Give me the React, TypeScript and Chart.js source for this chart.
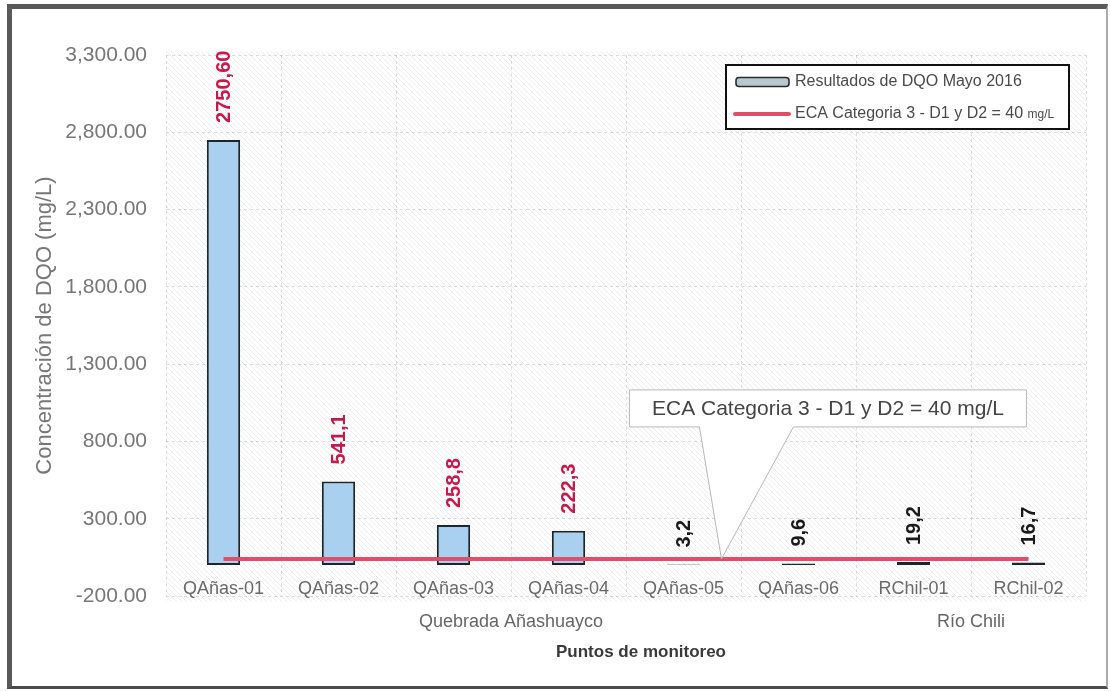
import { useEffect, useRef } from "react";
import { Chart, registerables } from "chart.js";

Chart.register(...registerables);

// Puntos de monitoreo (categorías del eje X)
const puntos = [
  "QAñas-01",
  "QAñas-02",
  "QAñas-03",
  "QAñas-04",
  "QAñas-05",
  "QAñas-06",
  "RChil-01",
  "RChil-02",
];

// Resultados de DQO, mayo 2016 (mg/L)
const dqoMayo2016 = [2750.6, 541.1, 258.8, 222.3, 3.2, 9.6, 19.2, 16.7];
// Decimales con los que se rotula cada resultado
const decimalesEtiqueta = [2, 1, 1, 1, 1, 1, 1, 1];

// Estándar de calidad ambiental (ECA) Categoría 3 - D1 y D2
const ecaLimite = 40;
const ecaSerie = [40, 40, 40, 40, 40, 40, 40, 40];

// Eje Y
const yMin = -200;
const yMax = 3300;
const yPaso = 500;

// Agrupación de puntos por cuerpo de agua
const gruposNombres = ["Quebrada Añashuayco", "Río Chili"];
const gruposDesde = [0, 6];
const gruposHasta = [5, 7];

const FONT = "'Liberation Sans', Arial, sans-serif";
const ROJO_ETIQUETA = "#c8184a";
const ROJO_ECA = "#e34d68";

function makeHatch(): CanvasPattern | string {
  const c = document.createElement("canvas");
  c.width = 5;
  c.height = 5;
  const g = c.getContext("2d");
  if (!g) return "#fafafa";
  g.fillStyle = "#ffffff";
  g.fillRect(0, 0, 5, 5);
  g.strokeStyle = "rgba(0,0,0,0.065)";
  g.lineWidth = 1;
  g.beginPath();
  g.moveTo(-1, -1);
  g.lineTo(6, 6);
  g.moveTo(-1, 4);
  g.lineTo(1, 6);
  g.moveTo(4, -1);
  g.lineTo(6, 1);
  g.stroke();
  const p = g.createPattern(c, "repeat");
  return p || "#fafafa";
}

export default function App() {
  const canvasRef = useRef<HTMLCanvasElement | null>(null);

  useEffect(() => {
    const canvas = canvasRef.current;
    if (!canvas) return;
    const hatch = makeHatch();

    const fondoPlot = {
      id: "fondoPlot",
      beforeDraw(chart: any) {
        const { ctx, chartArea } = chart;
        ctx.save();
        ctx.fillStyle = hatch;
        ctx.fillRect(
          chartArea.left,
          chartArea.top - 4,
          chartArea.right - chartArea.left,
          chartArea.bottom - chartArea.top + 10
        );
        ctx.restore();
      },
    };

    const etiquetasBarras = {
      id: "etiquetasBarras",
      afterDatasetsDraw(chart: any) {
        const { ctx } = chart;
        const meta = chart.getDatasetMeta(0);
        ctx.save();
        ctx.font = `bold 20px ${FONT}`;
        ctx.textAlign = "left";
        ctx.textBaseline = "middle";
        meta.data.forEach((bar: any, i: number) => {
          const v = dqoMayo2016[i];
          const txt = v.toFixed(decimalesEtiqueta[i]).replace(".", ",");
          ctx.save();
          ctx.translate(bar.x + 1, bar.y - 17);
          ctx.rotate(-Math.PI / 2);
          ctx.fillStyle = v > ecaLimite ? ROJO_ETIQUETA : "#1a1a1a";
          ctx.fillText(txt, 0, 0);
          ctx.restore();
        });
        ctx.restore();
      },
    };

    const llamada = {
      id: "llamada",
      afterDatasetsDraw(chart: any) {
        const { ctx, scales } = chart;
        const tipX = scales.x.getPixelForValue(4.33);
        const tipY = scales.y.getPixelForValue(ecaLimite);
        const left = tipX - 92;
        const right = tipX + 305;
        const bottom = tipY - 132;
        const top = bottom - 37;
        ctx.save();
        ctx.beginPath();
        ctx.moveTo(left, top);
        ctx.lineTo(right, top);
        ctx.lineTo(right, bottom);
        ctx.lineTo(tipX + 72, bottom);
        ctx.lineTo(tipX, tipY);
        ctx.lineTo(tipX - 22, bottom);
        ctx.lineTo(left, bottom);
        ctx.closePath();
        ctx.fillStyle = "#ffffff";
        ctx.fill();
        ctx.strokeStyle = "#b8b8b8";
        ctx.lineWidth = 1;
        ctx.stroke();
        ctx.fillStyle = "#444";
        ctx.font = `21px ${FONT}`;
        ctx.textAlign = "center";
        ctx.textBaseline = "middle";
        ctx.fillText(chart.data.datasets[1].label, (left + right) / 2, (top + bottom) / 2 + 1);
        ctx.restore();
      },
    };

    const leyenda = {
      id: "leyenda",
      afterDraw(chart: any) {
        const { ctx } = chart;
        const ds = chart.data.datasets;
        const lx = 726;
        const ly = 65;
        const lw = 343;
        const lh = 64;
        ctx.save();
        ctx.fillStyle = "#ffffff";
        ctx.fillRect(lx, ly, lw, lh);
        ctx.strokeStyle = "#111";
        ctx.lineWidth = 2;
        ctx.strokeRect(lx, ly, lw, lh);

        // fila 1: barras
        const r1 = ly + 17;
        ctx.beginPath();
        ctx.roundRect(736, r1 - 4.5, 53, 9, 3);
        ctx.fillStyle = "#b8c9cd";
        ctx.fill();
        ctx.strokeStyle = "#2a2a2a";
        ctx.lineWidth = 1.6;
        ctx.stroke();
        ctx.fillStyle = "#4a4a4a";
        ctx.font = `16px ${FONT}`;
        ctx.textAlign = "left";
        ctx.textBaseline = "middle";
        ctx.fillText(ds[0].label, 795, r1);

        // fila 2: línea ECA
        const r2 = ly + 49;
        ctx.beginPath();
        ctx.moveTo(735, r2);
        ctx.lineTo(789, r2);
        ctx.strokeStyle = ROJO_ECA;
        ctx.lineWidth = 4;
        ctx.lineCap = "round";
        ctx.stroke();
        const etiqueta: string = ds[1].label;
        const unidad = "mg/L";
        const base = etiqueta.endsWith(unidad) ? etiqueta.slice(0, -unidad.length) : etiqueta;
        ctx.fillStyle = "#4a4a4a";
        ctx.font = `16px ${FONT}`;
        ctx.fillText(base, 795, r2);
        if (base !== etiqueta) {
          const w = ctx.measureText(base).width;
          ctx.font = `12px ${FONT}`;
          ctx.fillText(unidad, 795 + w, r2 + 1);
        }
        ctx.restore();
      },
    };

    const rotulosInferiores = {
      id: "rotulosInferiores",
      afterDraw(chart: any) {
        const { ctx, scales, chartArea } = chart;
        ctx.save();
        ctx.textAlign = "center";
        ctx.textBaseline = "middle";
        ctx.fillStyle = "#666";
        ctx.font = `18px ${FONT}`;
        gruposNombres.forEach((nombre, i) => {
          const x0 = scales.x.getPixelForValue(gruposDesde[i]);
          const x1 = scales.x.getPixelForValue(gruposHasta[i]);
          ctx.fillText(nombre, (x0 + x1) / 2, chartArea.bottom + 26);
        });
        ctx.fillStyle = "#3a3a3a";
        ctx.font = `bold 17px ${FONT}`;
        ctx.fillText("Puntos de monitoreo", (chartArea.left + chartArea.right) / 2 + 15, chartArea.bottom + 56);
        ctx.restore();
      },
    };

    const chart = new Chart(canvas, {
      type: "bar",
      data: {
        labels: puntos,
        datasets: [
          {
            type: "bar",
            label: "Resultados de DQO Mayo 2016",
            data: dqoMayo2016,
            backgroundColor: "#a9d0ef",
            borderColor: "#1c262c",
            borderWidth: 2,
            borderSkipped: false,
            barPercentage: 0.29,
            categoryPercentage: 1,
            order: 1,
          },
          {
            type: "line",
            label: "ECA Categoria 3 - D1 y D2 = 40 mg/L",
            data: ecaSerie,
            borderColor: ROJO_ECA,
            borderWidth: 4,
            pointRadius: 0,
            fill: false,
            order: 0,
          } as any,
        ],
      },
      options: {
        responsive: false,
        animation: false,
        devicePixelRatio: 1,
        layout: { padding: { left: 0, right: 24, top: 55, bottom: 95 } },
        plugins: {
          legend: { display: false },
          tooltip: { enabled: false },
        },
        scales: {
          x: {
            type: "category",
            position: { y: 0 } as any,
            offset: true,
            grid: {
              offset: true,
              color: "rgba(0,0,0,0.13)",
              drawTicks: false,
            },
            border: { display: false, dash: [3, 3] },
            ticks: {
              color: "#6a6a6a",
              font: { family: FONT, size: 18 },
              padding: 13,
              maxRotation: 0,
              autoSkip: false,
            },
          },
          y: {
            type: "linear",
            min: yMin,
            max: yMax,
            afterFit(scale: any) {
              scale.width = 166;
            },
            grid: {
              color: "rgba(0,0,0,0.13)",
              drawTicks: false,
            },
            border: { display: false, dash: [3, 3] },
            ticks: {
              stepSize: yPaso,
              color: "#777",
              font: { family: FONT, size: 21 },
              padding: 19,
              callback: (v: any) =>
                Number(v).toLocaleString("en-US", {
                  minimumFractionDigits: 2,
                  maximumFractionDigits: 2,
                }),
            },
            title: {
              display: true,
              text: "Concentración de DQO (mg/L)",
              color: "#777",
              font: { family: FONT, size: 22 },
              padding: { top: 32, bottom: 0 },
            },
          },
        },
      },
      plugins: [fondoPlot, etiquetasBarras, llamada, leyenda, rotulosInferiores],
    });

    return () => chart.destroy();
  }, []);

  return (
    <div
      style={{
        position: "absolute",
        left: 0,
        top: 0,
        width: 1110,
        height: 691,
        background: "#ffffff",
      }}
    >
      <canvas ref={canvasRef} width={1110} height={691} style={{ display: "block" }} />
      <div
        style={{
          position: "absolute",
          left: 7,
          top: 4,
          width: 1101,
          height: 685,
          boxSizing: "border-box",
          borderLeft: "5px solid #5a5a5a",
          borderTop: "5px solid #5a5a5a",
          borderBottom: "3px solid #4a4a4a",
          borderRight: "2px solid #aaaaaa",
          pointerEvents: "none",
        }}
      />
    </div>
  );
}
